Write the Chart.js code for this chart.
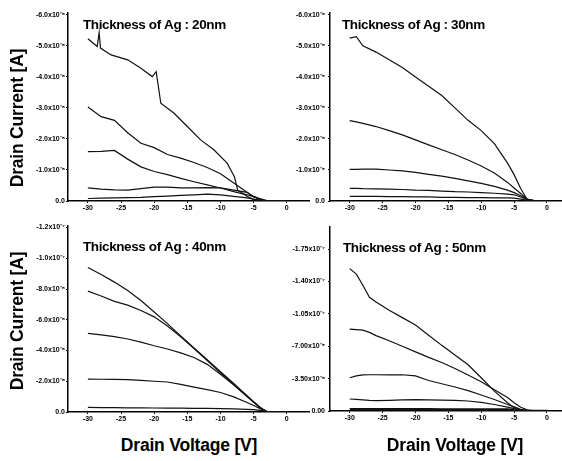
<!DOCTYPE html>
<html>
<head>
<meta charset="utf-8">
<script src="https://cdn.jsdelivr.net/npm/chart.js@4"></script>
<style>
  html, body { margin: 0; padding: 0; background: #fff; overflow: hidden; }
  body { width: 562px; height: 461px; position: relative; }
  canvas { position: absolute; }
  .axt { position: absolute; font: bold 17.5px "Liberation Sans", Arial, sans-serif; color: #000; white-space: nowrap; letter-spacing: -0.2px; }
  .rot { transform: translate(-50%, -50%) rotate(-90deg); }
  .hor { transform: translate(-50%, -50%); }
</style>
</head>
<body>
<canvas id="p20" width="310" height="215" style="left:0;top:0"></canvas>
<canvas id="p30" width="290" height="215" style="left:280px;top:0"></canvas>
<canvas id="p40" width="310" height="215" style="left:0;top:215px"></canvas>
<canvas id="p50" width="290" height="215" style="left:280px;top:215px"></canvas>
<div class="axt rot" style="left:17px;top:118px">Drain Current [A]</div>
<div class="axt rot" style="left:17px;top:321px">Drain Current [A]</div>
<div class="axt hor" style="left:189px;top:445px">Drain Voltage [V]</div>
<div class="axt hor" style="left:455px;top:445px">Drain Voltage [V]</div>
<script>
// drain current values are in units of 1e-8 A
// --- 20nm ---
const ag20SpikeV = [-30, -28.6, -28.3, -28.1, -26.5, -24, -22, -20.3, -19.7, -19, -17, -15, -13, -11, -9, -7.9, -7.4, -6, -5, -4];
const ag20SpikeI = [-5.23, -4.98, -5.43, -4.93, -4.71, -4.55, -4.28, -4.01, -4.17, -3.15, -2.83, -2.4, -1.97, -1.65, -1.22, -0.78, -0.35, -0.15, -0.05, 0];
const ag20V = [-30, -28, -26, -24, -22, -20, -18, -16, -14, -12, -10, -8, -6, -5, -4, -3, -2, 0];
const ag20B = [-3.03, -2.72, -2.6, -2.2, -1.86, -1.72, -1.5, -1.38, -1.24, -1.08, -0.88, -0.58, -0.28, -0.14, -0.05, 0, 0, 0];
const ag20C = [-1.59, -1.6, -1.63, -1.35, -1.1, -0.95, -0.85, -0.73, -0.62, -0.52, -0.42, -0.3, -0.2, -0.14, -0.07, -0.01, 0, 0];
const ag20D = [-0.42, -0.38, -0.36, -0.35, -0.4, -0.45, -0.45, -0.42, -0.42, -0.43, -0.42, -0.35, -0.28, -0.14, -0.06, 0, 0, 0];
const ag20E = [-0.08, -0.09, -0.1, -0.11, -0.12, -0.14, -0.16, -0.18, -0.2, -0.22, -0.2, -0.15, -0.1, -0.06, -0.03, 0, 0, 0];

// --- 30nm ---
const ag30V = [-30, -29, -28, -26, -24, -22, -20, -18, -16, -14, -12, -10, -8, -6, -5, -4, -3, -2, 0];
const ag30A = [-5.25, -5.3, -5.0, -4.8, -4.55, -4.3, -4.0, -3.7, -3.4, -3.0, -2.6, -2.27, -1.85, -1.22, -0.85, -0.4, -0.05, -0.01, 0];
const ag30B = [-2.59, -2.55, -2.5, -2.4, -2.27, -2.13, -1.97, -1.81, -1.65, -1.5, -1.32, -1.13, -0.9, -0.6, -0.42, -0.24, -0.06, -0.01, 0];
const ag30C = [-1.02, -1.02, -1.03, -1.03, -1.0, -0.97, -0.92, -0.86, -0.8, -0.73, -0.65, -0.57, -0.47, -0.35, -0.27, -0.17, -0.05, -0.01, 0];
const ag30D = [-0.41, -0.41, -0.4, -0.39, -0.38, -0.37, -0.35, -0.34, -0.32, -0.3, -0.29, -0.27, -0.25, -0.22, -0.2, -0.13, -0.04, 0, 0];
const ag30E = [-0.15, -0.15, -0.15, -0.15, -0.14, -0.14, -0.13, -0.13, -0.12, -0.12, -0.11, -0.11, -0.1, -0.1, -0.09, -0.06, -0.02, 0, 0];

// --- 40nm ---
const ag40V = [-30, -28, -26, -24, -22, -20, -18, -16, -14, -12, -10, -8, -6, -5, -4, -3, -2, 0];
const ag40A = [-9.4, -8.95, -8.45, -7.9, -7.25, -6.51, -5.75, -4.95, -4.17, -3.4, -2.62, -1.85, -1.06, -0.67, -0.3, -0.02, 0, 0];
const ag40B = [-7.86, -7.55, -7.2, -6.95, -6.6, -6.19, -5.6, -4.9, -4.13, -3.35, -2.55, -1.8, -1.03, -0.65, -0.28, -0.02, 0, 0];
const ag40C = [-5.11, -5.02, -4.9, -4.75, -4.55, -4.31, -4.1, -3.85, -3.55, -3.1, -2.45, -1.75, -1.0, -0.63, -0.28, -0.02, 0, 0];
const ag40D = [-2.14, -2.13, -2.12, -2.1, -2.06, -2.0, -1.95, -1.8, -1.62, -1.45, -1.27, -0.98, -0.62, -0.42, -0.22, -0.03, 0, 0];
const ag40E = [-0.3, -0.29, -0.28, -0.27, -0.27, -0.26, -0.25, -0.25, -0.24, -0.23, -0.22, -0.2, -0.17, -0.15, -0.1, -0.03, 0, 0];

// --- 50nm ---
const ag50V = [-30, -29, -28, -27, -26, -24, -22, -20, -18, -16, -14, -12, -10, -8, -6, -5, -4, -3, -2, 0];
const ag50A = [-15.4, -14.8, -13.6, -12.3, -11.8, -10.9, -10.1, -9.3, -8.2, -7.1, -6.05, -5.0, -3.6, -2.15, -0.9, -0.35, -0.1, -0.02, 0, 0];
const ag50B = [-8.86, -8.8, -8.75, -8.5, -8.15, -7.6, -7.0, -6.4, -5.8, -5.25, -4.6, -3.9, -3.16, -2.3, -1.45, -0.9, -0.4, -0.12, -0.02, 0];
const ag50C = [-3.6, -3.8, -3.9, -3.92, -3.92, -3.9, -3.92, -3.8, -3.3, -2.95, -2.6, -2.2, -1.73, -1.25, -0.7, -0.45, -0.18, -0.05, 0, 0];
const ag50D = [-1.3, -1.25, -1.2, -1.15, -1.12, -1.15, -1.2, -1.22, -1.2, -1.18, -1.15, -1.08, -0.94, -0.7, -0.42, -0.25, -0.1, -0.03, 0, 0];
const ag50E = [-0.2, -0.2, -0.2, -0.2, -0.2, -0.19, -0.19, -0.18, -0.18, -0.17, -0.17, -0.16, -0.16, -0.15, -0.15, -0.08, -0.03, 0, 0, 0];

// --- tick labels ---
const xTicks = [-30, -25, -20, -15, -10, -5, 0];
const yTicksTop = [0, -1, -2, -3, -4, -5, -6];
const yLabelsTop = ["0.0", "-1.0x10⁻⁸", "-2.0x10⁻⁸", "-3.0x10⁻⁸", "-4.0x10⁻⁸", "-5.0x10⁻⁸", "-6.0x10⁻⁸"];
const yTicks40 = [0, -2, -4, -6, -8, -10, -12];
const yLabels40 = ["0.0", "-2.0x10⁻⁸", "-4.0x10⁻⁸", "-6.0x10⁻⁸", "-8.0x10⁻⁸", "-1.0x10⁻⁷", "-1.2x10⁻⁷"];
const yTicks50 = [0, -3.5, -7, -10.5, -14, -17.5];
const yLabels50 = ["0.00", "-3.50x10⁻⁸", "-7.00x10⁻⁸", "-1.05x10⁻⁷", "-1.40x10⁻⁷", "-1.75x10⁻⁷"];

const tickFont = { family: "Liberation Sans", size: 7, weight: "bold" };

Chart.register({
  id: "panelTitle",
  afterDraw(chart, args, opts) {
    const { ctx, chartArea } = chart;
    ctx.save();
    ctx.font = 'bold 13.5px "Liberation Sans"';
    ctx.letterSpacing = "-0.4px";
    ctx.fillStyle = "#000";
    ctx.textBaseline = "middle";
    ctx.fillText(opts.text, chartArea.left + opts.dx, chartArea.top + opts.dy);
    ctx.restore();
  },
});

function series(xs, ys, width) {
  return {
    data: xs.map((x, i) => ({ x, y: ys[i] })),
    borderColor: "#111",
    borderWidth: width || 1.2,
    pointRadius: 0,
    tension: 0,
  };
}

function createPanel(id, datasets, yTicks, yLabels, yMin, cfg) {
  return new Chart(document.getElementById(id), {
    type: "line",
    data: { datasets },
    options: {
      responsive: false,
      animation: false,
      devicePixelRatio: 1,
      layout: { padding: { top: cfg.top, right: 0, left: 0, bottom: 0 } },
      plugins: {
        legend: { display: false },
        tooltip: { enabled: false },
        panelTitle: { text: cfg.title, dx: cfg.dx, dy: cfg.dy },
      },
      scales: {
        x: {
          type: "linear",
          min: -33,
          max: 3.5,
          afterBuildTicks: (s) => { s.ticks = xTicks.map((v) => ({ value: v })); },
          afterFit: (s) => { s.height = cfg.xh; },
          ticks: { font: tickFont, color: "#000", padding: 1, maxRotation: 0, callback: (v) => String(v) },
          grid: { drawOnChartArea: false, tickLength: 2, color: "#000" },
          border: { color: "#000", width: 1.5 },
        },
        y: {
          type: "linear",
          reverse: true,
          min: yMin,
          max: 0,
          afterBuildTicks: (s) => { s.ticks = yTicks.map((v) => ({ value: v })); },
          afterFit: (s) => { s.width = cfg.yw; },
          ticks: { font: tickFont, color: "#000", padding: cfg.ypad, callback: (v, i) => yLabels[i] },
          grid: { drawOnChartArea: false, tickLength: 2, color: "#000" },
          border: { color: "#000", width: 1.5 },
        },
      },
    },
  });
}

createPanel("p20", [
  series(ag20SpikeV, ag20SpikeI),
  series(ag20V, ag20B),
  series(ag20V, ag20C),
  series(ag20V, ag20D),
  series(ag20V, ag20E),
], yTicksTop, yLabelsTop, -6.06, { title: "Thickness of Ag : 20nm", dx: 15, dy: 12, top: 13, xh: 14, yw: 68, ypad: 1 });

createPanel("p30", [
  series(ag30V, ag30A),
  series(ag30V, ag30B),
  series(ag30V, ag30C),
  series(ag30V, ag30D),
  series(ag30V, ag30E),
], yTicksTop, yLabelsTop, -6.06, { title: "Thickness of Ag : 30nm", dx: 12, dy: 12, top: 13, xh: 14, yw: 50, ypad: 3 });

createPanel("p40", [
  series(ag40V, ag40A),
  series(ag40V, ag40B),
  series(ag40V, ag40C),
  series(ag40V, ag40D),
  series(ag40V, ag40E),
], yTicks40, yLabels40, -12.1, { title: "Thickness of Ag : 40nm", dx: 15, dy: 21, top: 11, xh: 18, yw: 68, ypad: 1 });

createPanel("p50", [
  series(ag50V, ag50A),
  series(ag50V, ag50B),
  series(ag50V, ag50C),
  series(ag50V, ag50D),
  series(ag50V, ag50E, 2.5),
], yTicks50, yLabels50, -19.9, { title: "Thickness of Ag : 50nm", dx: 13, dy: 21, top: 12, xh: 19, yw: 50, ypad: 3 });
</script>
</body>
</html>
